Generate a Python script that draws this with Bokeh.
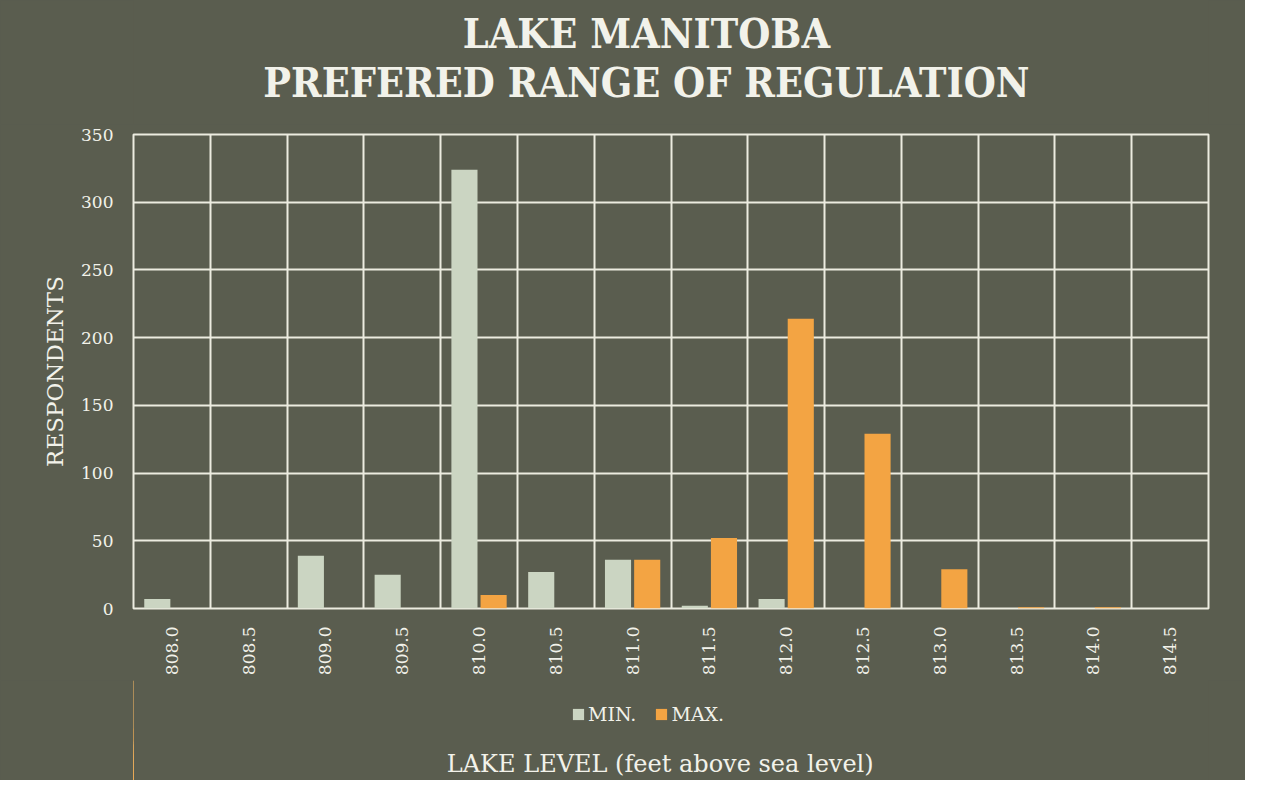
from bokeh.plotting import figure
from bokeh.models import (ColumnDataSource, Range1d, FixedTicker, Legend, LegendItem, Label)
from bokeh.layouts import column
from bokeh.transform import dodge
from bokeh.embed import file_html
from bokeh.resources import INLINE
from math import pi

# ---- data ----
levels = ["808.0", "808.5", "809.0", "809.5", "810.0", "810.5", "811.0",
          "811.5", "812.0", "812.5", "813.0", "813.5", "814.0", "814.5"]
min_counts = [7, 0, 39, 25, 324, 27, 36, 2, 7, 0, 0, 0, 0, 0]
max_counts = [0, 0, 0, 0, 10, 0, 36, 52, 214, 129, 29, 1, 1, 0]
y_ticks = [0, 50, 100, 150, 200, 250, 300, 350]
title_lines = ["LAKE MANITOBA", "PREFERED RANGE OF REGULATION"]
series_names = ["MIN.", "MAX."]
x_title = "LAKE LEVEL (feet above sea level)"
y_title = "RESPONDENTS"

BG = "#5a5d4f"
GRID = "#ecece0"
TXT = "#f2f2ea"
C_MIN = "#cbd5c2"
C_MAX = "#f3a443"
TITLE_FONT = "DejaVu Serif Condensed, DejaVu Serif"
W = 1245
N = len(levels)


def blank(height):
    f = figure(width=W, height=height, output_backend="svg", toolbar_location=None,
               x_range=Range1d(0, N), y_range=Range1d(0, height),
               x_axis_location=None, y_axis_location=None, min_border=0,
               min_border_left=133, min_border_right=37)
    f.grid.visible = False
    f.outline_line_color = None
    f.background_fill_color = None
    f.border_fill_color = BG
    return f


centers = [i + 0.5 for i in range(N)]
src = ColumnDataSource(dict(x=centers, mn=min_counts, mx=max_counts))

# ---- title strip ----
top = blank(124)
top.add_layout(Label(x=N / 2 - 0.32, y=91, text=title_lines[0], text_align="center",
                     text_baseline="middle", text_font=TITLE_FONT, text_font_style="bold",
                     text_font_size="41px", text_color=TXT))
top.add_layout(Label(x=N / 2 - 0.32, y=42, text=title_lines[1], text_align="center",
                     text_baseline="middle", text_font=TITLE_FONT, text_font_style="bold",
                     text_font_size="41px", text_color=TXT))

# ---- main chart ----
p = figure(width=W, height=556, output_backend="svg", toolbar_location=None,
           x_range=Range1d(0, N), y_range=Range1d(0, 350),
           min_border_left=133, min_border_right=37, min_border_top=10,
           min_border_bottom=72)
p.title = None
p.background_fill_color = BG
p.border_fill_color = BG
p.outline_line_color = GRID
p.outline_line_width = 2

p.vbar(x=dodge("x", -0.19, range=p.x_range), top="mn", width=0.34,
       source=src, fill_color=C_MIN, line_color=None)
p.vbar(x=dodge("x", 0.19, range=p.x_range), top="mx", width=0.34,
       source=src, fill_color=C_MAX, line_color=None)

p.xaxis.ticker = FixedTicker(ticks=centers)
p.xaxis.major_label_overrides = {c: l for c, l in zip(centers, levels)}
p.xaxis.major_label_orientation = pi / 2
p.yaxis.ticker = FixedTicker(ticks=y_ticks)
for ax in (p.xaxis[0], p.yaxis[0]):
    ax.axis_line_color = None
    ax.major_tick_line_color = None
    ax.minor_tick_line_color = None
    ax.major_tick_out = 0
    ax.major_tick_in = 0
    ax.major_label_text_color = TXT
    ax.major_label_text_font = "DejaVu Serif"
    ax.axis_label_text_font = "DejaVu Serif"
    ax.axis_label_text_font_style = "normal"
    ax.axis_label_text_color = TXT
p.xaxis.major_label_text_font_size = "17px"
p.yaxis.major_label_text_font_size = "17px"
p.xaxis.major_label_standoff = 18
p.yaxis.major_label_standoff = 20
p.yaxis.axis_label = y_title
p.yaxis.axis_label_text_font_size = "23px"
p.yaxis.axis_label_standoff = 10

p.xgrid.ticker = FixedTicker(ticks=list(range(N + 1)))
p.xgrid.grid_line_color = GRID
p.xgrid.grid_line_width = 2
p.ygrid.grid_line_color = GRID
p.ygrid.grid_line_width = 2

# ---- legend + x title strip ----
bot = blank(100)
bot.extra_x_ranges = {"off": Range1d(1000, 2000)}
k1 = bot.vbar(x=dodge("x", -0.19, range=bot.extra_x_ranges["off"]), top="mn", width=0.34,
              source=src, fill_color=C_MIN, line_color=None, x_range_name="off")
k2 = bot.vbar(x=dodge("x", 0.19, range=bot.extra_x_ranges["off"]), top="mx", width=0.34,
              source=src, fill_color=C_MAX, line_color=None, x_range_name="off")
legend = Legend(items=[LegendItem(label=series_names[0], renderers=[k1]),
                       LegendItem(label=series_names[1], renderers=[k2])],
                orientation="horizontal", location=(438, 55),
                background_fill_alpha=0, border_line_color=None,
                label_text_color=TXT, label_text_font="DejaVu Serif",
                label_text_font_size="19px", glyph_width=14, glyph_height=14,
                label_height=18, spacing=18, padding=0, margin=0, label_standoff=3)
bot.add_layout(legend, "center")
bot.add_layout(Label(x=N / 2 - 0.14, y=17, text=x_title, text_align="center",
                     text_baseline="middle", text_font="DejaVu Serif",
                     text_font_size="24px", text_color=TXT))

layout = column(top, p, bot, spacing=0, styles={"background-color": BG})
open("out.html", "w").write(file_html(layout, INLINE))
